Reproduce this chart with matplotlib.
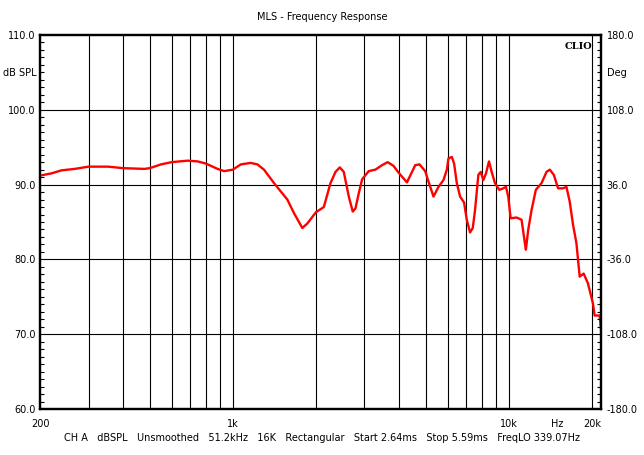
"""MLS - Frequency Response (CLIO style)"""
import numpy as np
import matplotlib.pyplot as plt
from matplotlib.ticker import FixedLocator, MultipleLocator, NullFormatter

# frequency (Hz) and level (dB SPL)
freq = [200, 220, 239, 267, 300, 353, 400, 478, 500, 549, 600, 686, 746, 800,
        880, 930, 1000, 1069, 1160, 1228, 1297, 1410, 1576, 1665, 1786, 1862,
        2000, 2137, 2259, 2356, 2442, 2524, 2632, 2720, 2782, 2859, 2941, 3108,
        3286, 3474, 3640, 3825, 3988, 4277, 4583, 4750, 4980, 5120, 5337, 5564,
        5800, 5967, 6046, 6220, 6339, 6483, 6664, 6889, 7046, 7242, 7407, 7550,
        7760, 7916, 8090, 8272, 8482, 8674, 8916, 9241, 9553, 9770, 9960, 10160,
        10680, 11130, 11440, 11540, 11760, 12100, 12540, 13150, 13710, 14090,
        14570, 15100, 15730, 16190, 16640, 17110, 17590, 18080, 18690, 19370,
        20200, 20480, 21350, 21650]
spl = [91.2, 91.5, 91.9, 92.1, 92.4, 92.4, 92.2, 92.1, 92.2, 92.7, 93.0, 93.2,
       93.1, 92.8, 92.1, 91.8, 92.0, 92.7, 92.9, 92.7, 92.0, 90.2, 88.0, 86.2,
       84.2, 84.8, 86.3, 87.0, 90.2, 91.7, 92.3, 91.7, 88.4, 86.4, 86.8, 88.8,
       90.7, 91.8, 92.0, 92.6, 93.0, 92.5, 91.6, 90.3, 92.6, 92.7, 91.8, 90.4,
       88.4, 89.7, 90.6, 92.0, 93.5, 93.7, 92.8, 90.2, 88.4, 87.6, 85.3, 83.6,
       84.2, 86.6, 91.3, 91.7, 90.6, 91.5, 93.1, 91.7, 90.2, 89.3, 89.5, 89.7,
       88.4, 85.5, 85.6, 85.3, 82.2, 81.3, 83.9, 86.6, 89.3, 90.2, 91.7, 92.0,
       91.3, 89.5, 89.5, 89.7, 87.7, 84.6, 82.2, 77.7, 78.1, 76.8, 74.1, 72.5,
       72.5, 70.3]

grid_freqs = [300, 400, 500, 600, 700, 800, 900, 1000, 2000, 3000, 4000, 5000,
              6000, 7000, 8000, 9000, 10000, 20000]
db_ticks = [60, 70, 80, 90, 100, 110]
deg_ticks = [-180, -108, -36, 36, 108, 180]
x_labels = {200: '200', 1000: '1k', 10000: '10k', 20000: '20k'}

fig = plt.figure(figsize=(6.44, 4.55), dpi=100)
ax = fig.add_axes([40 / 644, 1 - 409 / 455, 561 / 644, 374 / 455])
ax.set_xscale('log')
ax.set_xlim(200, 21600)
ax.set_ylim(60, 110)

for f in grid_freqs:
    ax.axvline(f, color='black', lw=0.8, zorder=1)
for d in db_ticks[1:-1]:
    ax.axhline(d, color='black', lw=0.8, zorder=1)

ax.plot(freq, spl, color='red', lw=1.7, zorder=3)

for s in ax.spines.values():
    s.set_linewidth(1.6)

fs = 7
ax.xaxis.set_major_locator(FixedLocator(list(x_labels.keys())))
ax.xaxis.set_minor_locator(FixedLocator([]))
ax.set_xticklabels(list(x_labels.values()), fontsize=fs)
ax.xaxis.set_minor_formatter(NullFormatter())
ax.tick_params(axis='x', which='both', length=0, pad=7)
ax.text(15000, -0.026, 'Hz', transform=ax.get_xaxis_transform(),
        ha='center', va='top', fontsize=fs)

ax.set_yticks(db_ticks)
ax.set_yticklabels(['%.1f' % d for d in db_ticks], fontsize=fs)
ax.yaxis.set_minor_locator(MultipleLocator(1))
ax.tick_params(axis='y', which='major', length=0, pad=3)
ax.tick_params(axis='y', which='minor', direction='in', length=3, width=0.8)

ax2 = ax.twinx()
ax2.set_ylim(-180, 180)
ax2.set_yticks(deg_ticks)
ax2.set_yticklabels(['%.1f' % d for d in deg_ticks], fontsize=fs)
ax2.yaxis.set_minor_locator(MultipleLocator(7.2))
ax2.tick_params(axis='y', which='major', length=0, pad=4)
ax2.tick_params(axis='y', which='minor', direction='in', length=3, width=0.8)
for s in ax2.spines.values():
    s.set_linewidth(1.6)

fig.text(37 / 644, 1 - 73 / 455, 'dB SPL', ha='right', va='center', fontsize=fs)
fig.text(607 / 644, 1 - 73 / 455, 'Deg', ha='left', va='center', fontsize=fs)
fig.text(0.5, 1 - 17 / 455, 'MLS - Frequency Response', ha='center',
         va='center', fontsize=fs)
fig.text(0.5, 1 - 438 / 455,
         'CH A   dBSPL   Unsmoothed   51.2kHz   16K   Rectangular   '
         'Start 2.64ms   Stop 5.59ms   FreqLO 339.07Hz',
         ha='center', va='center', fontsize=fs)
ax.text(0.985, 0.98, 'CLIO', transform=ax.transAxes, ha='right', va='top',
        fontsize=7, fontweight='bold', family='DejaVu Serif')

plt.savefig('out.png', dpi=100)
